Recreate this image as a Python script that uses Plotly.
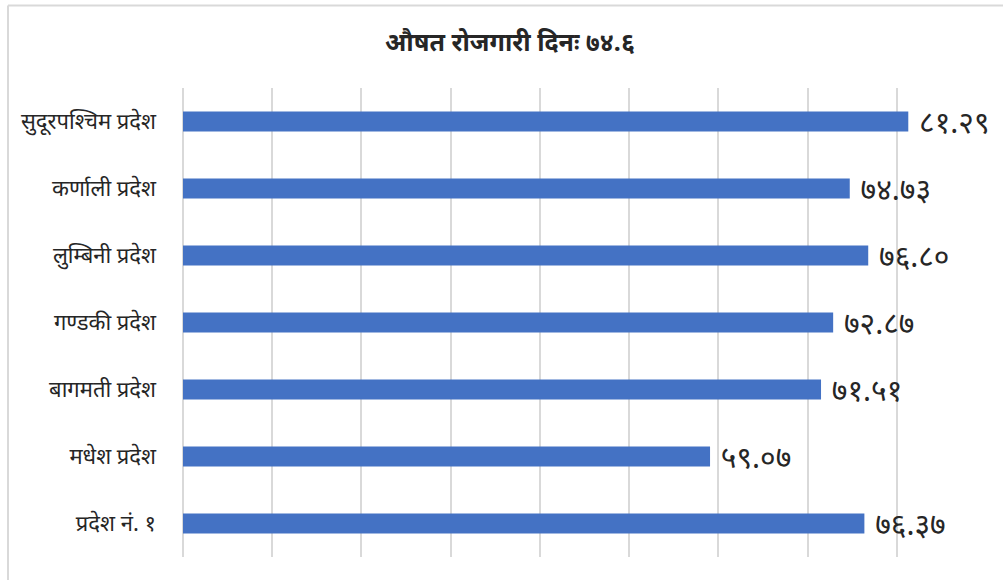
import plotly.graph_objects as go

categories = ["प्रदेश नं. १", "मधेश प्रदेश", "बागमती प्रदेश", "गण्डकी प्रदेश",
              "लुम्बिनी प्रदेश", "कर्णाली प्रदेश", "सुदूरपश्चिम प्रदेश"]
values = [76.37, 59.07, 71.51, 72.87, 76.80, 74.73, 81.29]
value_labels = ["७६.३७", "५९.०७", "७१.५१", "७२.८७", "७६.८०", "७४.७३", "८१.२९"]
title_text = "औषत रोजगारी दिनः ७४.६"

W, H = 1003, 580
L, R, T, B = 183, 17, 88, 23
FONT = "Noto Sans, sans-serif"

fig = go.Figure(go.Bar(
    x=values, y=categories, orientation="h",
    marker=dict(color="#4472C4", line=dict(width=0)),
    width=0.3,
    text=["\u00a0" + t for t in value_labels], textposition="outside",
    constraintext="none",
    textfont=dict(size=30, color="#262626", family=FONT),
    cliponaxis=False,
))

pw, ph = W - L - R, H - T - B
def px(x):
    return (x - L) / pw
def py(y):
    return (H - B - y) / ph

fig.update_layout(
    width=W, height=H,
    margin=dict(l=L, r=R, t=T, b=B),
    plot_bgcolor="white", paper_bgcolor="white",
    title=dict(text="<b>" + title_text + "</b>", x=px(510),
               xanchor="center", xref="paper",
               y=1 - 42 / H, yanchor="middle",
               font=dict(size=25, color="#262626", family=FONT)),
    xaxis=dict(range=[0, 90], dtick=10, showticklabels=False, showgrid=True,
               gridcolor="#d9d9d9", gridwidth=1.5, zeroline=True,
               zerolinecolor="#d9d9d9", zerolinewidth=1.5, showline=False, fixedrange=True),
    yaxis=dict(showgrid=False, ticks="", ticklabelstandoff=26,
               tickfont=dict(size=22, color="#262626", family=FONT),
               showline=False, fixedrange=True),
    showlegend=False,
    shapes=[
        dict(type="line", xref="paper", yref="paper", x0=px(8), x1=px(1003), y0=py(5.5), y1=py(5.5),
             line=dict(color="#d9d9d9", width=2), layer="below"),
        dict(type="line", xref="paper", yref="paper", x0=px(8), x1=px(8), y0=py(5.5), y1=py(580),
             line=dict(color="#d9d9d9", width=2), layer="below"),
    ],
)

fig.write_html("out.html", config={"displayModeBar": False},
               post_script="document.body.style.margin='0';")
